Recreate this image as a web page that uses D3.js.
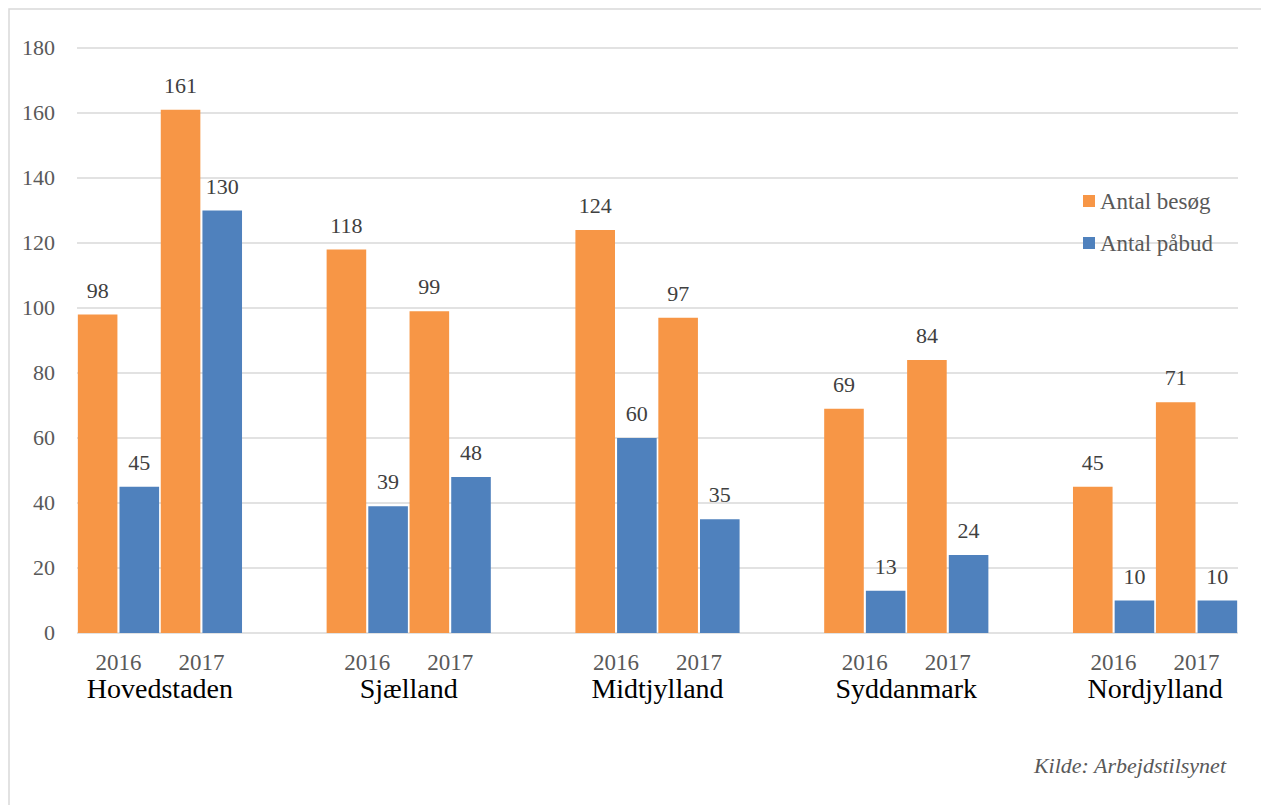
<!DOCTYPE html>
<html>
<head>
<meta charset="utf-8">
<script src="https://d3js.org/d3.v7.min.js"></script>
<style>
  html body svg text { font-family: "Liberation Serif", "Times New Roman", serif !important; }
</style>
</head>
<body style="margin:0">
<script>
// data
var regions = ["Hovedstaden", "Sjælland", "Midtjylland", "Syddanmark", "Nordjylland"];
var years = ["2016", "2017"];
var series = ["Antal besøg", "Antal påbud"];
var besoeg = [[98, 161], [118, 99], [124, 97], [69, 84], [45, 71]];
var paabud = [[45, 130], [39, 48], [60, 35], [13, 24], [10, 10]];
var yTicks = [0, 20, 40, 60, 80, 100, 120, 140, 160, 180];

var W = 1261, H = 805;
var colors = ["#F79646", "#4F81BD"];
var FONT = "\"Liberation Serif\", \"Times New Roman\", serif";

var svg = d3.select("body").append("svg")
  .attr("width", W)
  .attr("height", H)
  .attr("font-family", FONT);

// outer frame (only top and left show in the shot)
svg.append("rect")
  .attr("x", 9).attr("y", 9)
  .attr("width", W).attr("height", H)
  .attr("fill", "none")
  .attr("stroke", "#d9d9d9")
  .attr("stroke-width", 1.5);

// one slot per region/year, with an empty slot between regions
var slots = d3.range(regions.length * 3 - 1);
var x = d3.scaleBand().domain(slots).range([77, 1238]);
var inner = d3.scaleBand().domain([0, 1]).range([0, x.bandwidth()])
  .paddingInner(0.05).paddingOuter(0.02);
var y = d3.scaleLinear().domain([0, 180]).range([633, 48]);

// grid
svg.append("g").selectAll("line")
  .data(yTicks)
  .join("line")
  .attr("x1", 77).attr("x2", 1238)
  .attr("y1", function(d) { return y(d); })
  .attr("y2", function(d) { return y(d); })
  .attr("stroke", "#d9d9d9")
  .attr("stroke-width", 1.5);

// y tick labels
svg.append("g").selectAll("text")
  .data(yTicks)
  .join("text")
  .attr("x", 55)
  .attr("y", function(d) { return y(d); })
  .attr("dy", "0.33em")
  .attr("text-anchor", "end")
  .attr("font-size", 22)
  .attr("fill", "#595959")
  .text(function(d) { return d; });

// flatten to bars
var bars = [];
regions.forEach(function(r, ri) {
  years.forEach(function(yr, yi) {
    bars.push({ slot: ri * 3 + yi, s: 0, v: besoeg[ri][yi] });
    bars.push({ slot: ri * 3 + yi, s: 1, v: paabud[ri][yi] });
  });
});

svg.append("g").selectAll("rect")
  .data(bars)
  .join("rect")
  .attr("x", function(d) { return x(d.slot) + inner(d.s); })
  .attr("y", function(d) { return y(d.v); })
  .attr("width", inner.bandwidth())
  .attr("height", function(d) { return y(0) - y(d.v); })
  .attr("fill", function(d) { return colors[d.s]; });

// value labels
svg.append("g").selectAll("text")
  .data(bars)
  .join("text")
  .attr("x", function(d) { return x(d.slot) + inner(d.s) + inner.bandwidth() / 2; })
  .attr("y", function(d) { return y(d.v) - 17; })
  .attr("text-anchor", "middle")
  .attr("font-size", 22)
  .attr("fill", "#404040")
  .text(function(d) { return d.v; });

// year labels
var yearLabels = [];
regions.forEach(function(r, ri) {
  years.forEach(function(yr, yi) { yearLabels.push({ slot: ri * 3 + yi, t: yr }); });
});
svg.append("g").selectAll("text")
  .data(yearLabels)
  .join("text")
  .attr("x", function(d) { return x(d.slot) + x.bandwidth() / 2; })
  .attr("y", 670)
  .attr("text-anchor", "middle")
  .attr("font-size", 23)
  .attr("fill", "#595959")
  .text(function(d) { return d.t; });

// region labels
svg.append("g").selectAll("text")
  .data(regions)
  .join("text")
  .attr("x", function(d, i) { return x(i * 3) + x.bandwidth(); })
  .attr("y", 698)
  .attr("text-anchor", "middle")
  .attr("font-size", 28)
  .attr("fill", "#000")
  .text(function(d) { return d; });

// legend
var legend = svg.append("g").attr("transform", "translate(1083,195)");
legend.selectAll("rect")
  .data(series)
  .join("rect")
  .attr("x", 0)
  .attr("y", function(d, i) { return i * 42; })
  .attr("width", 12).attr("height", 12)
  .attr("fill", function(d, i) { return colors[i]; });
legend.selectAll("text")
  .data(series)
  .join("text")
  .attr("x", 17)
  .attr("y", function(d, i) { return i * 42 + 14; })
  .attr("font-size", 23)
  .attr("fill", "#595959")
  .text(function(d) { return d; });

// source
svg.append("text")
  .attr("x", 1226)
  .attr("y", 773)
  .attr("text-anchor", "end")
  .attr("font-size", 22)
  .attr("font-style", "italic")
  .attr("fill", "#595959")
  .text("Kilde: Arbejdstilsynet");

// inline, so nothing else can win
svg.selectAll("text").style("font-family", FONT, "important");
</script>
</body>
</html>
